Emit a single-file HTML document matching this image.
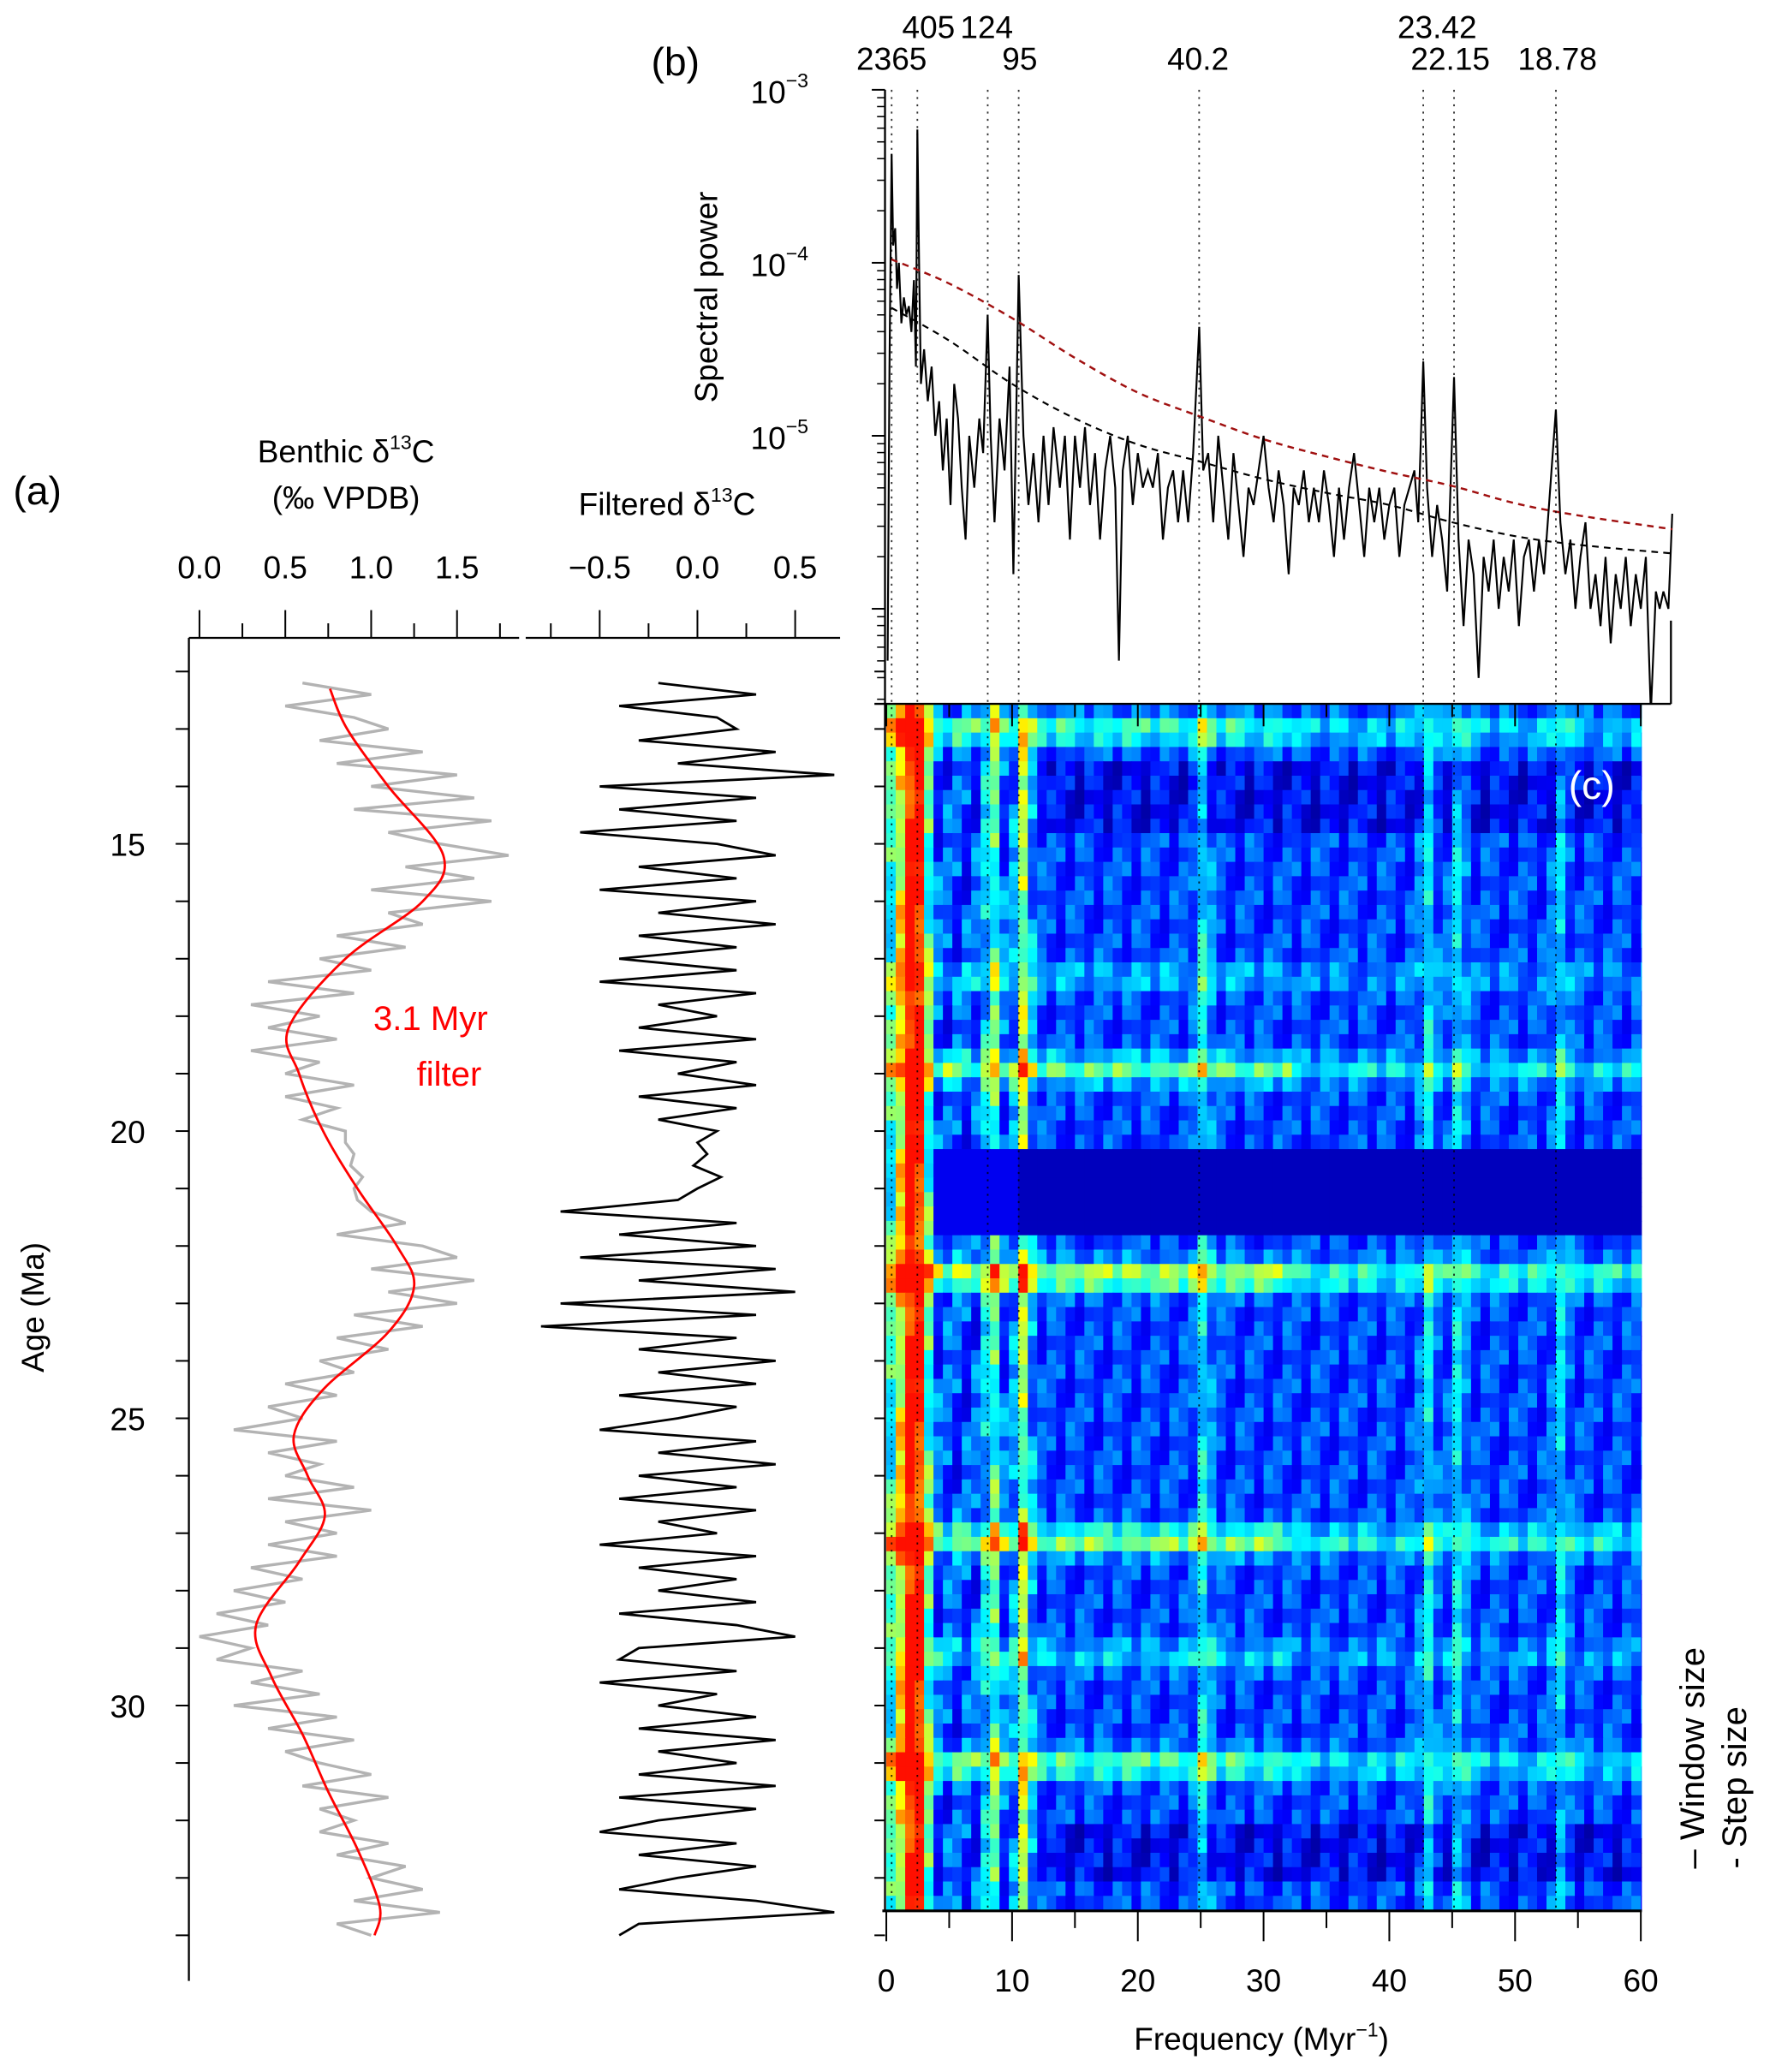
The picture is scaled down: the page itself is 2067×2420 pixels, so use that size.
<!DOCTYPE html>
<html><head><meta charset="utf-8"><style>
html,body{margin:0;padding:0;background:#fff;}
svg{display:block;font-family:"Liberation Sans",Arial,sans-serif;}
</style></head><body>
<svg id="fig" xmlns="http://www.w3.org/2000/svg" width="2067" height="2420" viewBox="0 0 1340 1569" preserveAspectRatio="none">
<defs><clipPath id="hclip"><rect x="670" y="533" width="573" height="914"/></clipPath></defs>
<g id="heat" clip-path="url(#hclip)"></g>
<g id="layer"></g>
</svg>
<script>
// ---------- DATA ----------
const rawAgeStart = 12.2, rawAgeStep = 0.2;
const rawD13C = [0.6,1.0,0.5,0.9,1.1, 0.7,1.3,0.8,1.5,1.0, 1.6,0.9,1.7,1.1,1.4, 1.8,1.2,1.6,1.0,1.7,
 1.1,1.3,0.8,1.2,0.7, 1.0,0.4,0.9,0.3,0.7, 0.4,0.8,0.3,0.7,0.5, 0.9,0.5,0.8,0.6,0.85,
 0.85,0.9,0.88,0.95,0.9, 0.92,1.0,1.2,0.8,1.3, 1.5,1.0,1.6,1.1,1.5, 0.9,1.3,0.8,1.1,0.7,
 0.9,0.5,0.8,0.4,0.6, 0.2,0.8,0.4,0.7,0.5, 0.9,0.4,1.0,0.5,0.8, 0.4,0.8,0.3,0.6,0.2,
 0.5,0.1,0.4,0.0,0.3, 0.1,0.6,0.3,0.7,0.2, 0.8,0.4,0.9,0.5,0.7, 1.0,0.6,1.1,0.7,0.9,
 0.7,1.1,0.8,1.2,1.0, 1.3,0.9,1.4,0.8,1.0];
const filtAges = [12.3,13,14,15.2,16,17,18.2,19,20,21,22,22.7,23.5,24.5,25.3,26,26.7,27.5,28.6,29.5,30.5,31.5,32.5,33.5,34];
const filtVals = [0.76,0.86,1.1,1.42,1.3,0.85,0.52,0.58,0.72,0.92,1.15,1.25,1.1,0.72,0.55,0.63,0.73,0.58,0.33,0.42,0.6,0.75,0.92,1.05,1.02];
const filtered = [-0.2,0.3,-0.4,0.1,0.2, -0.3,0.4,-0.1,0.7,-0.5, 0.3,-0.4,0.2,-0.6,0.1, 0.4,-0.3,0.2,-0.5,0.3,
 -0.2,0.4,-0.3,0.2,-0.4, 0.2,-0.5,0.3,-0.2,0.1, -0.3,0.3,-0.4,0.2,-0.1, 0.3,-0.3,0.2,-0.2,0.1,
 0.0,0.05,-0.02,0.12,0.0, -0.1,-0.7,0.2,-0.4,0.3, -0.6,0.4,-0.3,0.5,-0.7, 0.3,-0.8,0.2,-0.3,0.4,
 -0.2,0.3,-0.4,0.2,-0.1, -0.5,0.3,-0.2,0.4,-0.3, 0.2,-0.4,0.3,-0.2,0.1, -0.5,0.3,-0.3,0.2,-0.2,
 0.3,-0.4,0.2,0.5,-0.3, -0.4,0.2,-0.5,0.1,-0.2, 0.3,-0.3,0.4,-0.2,0.2, -0.3,0.4,-0.4,0.3,-0.2,
 -0.5,0.2,-0.3,0.3,-0.1, -0.4,0.3,0.7,-0.3,-0.4];
const specFreq = [0.1,0.25,0.42,0.55,0.7,0.85,1.0,1.2,1.4,1.6,1.8,2.0,2.2,2.35,2.47,2.6,2.75,3.0,3.3,3.6,3.9,4.2,4.5,4.8,5.1,5.4,5.7,6.0,6.3,6.6,7.0,7.4,7.7,8.06,8.3,8.6,9.0,9.4,9.8,10.1,10.53,10.9,11.3,11.7,12.1,12.5,12.9,13.3,13.8,14.2,14.6,15.0,15.4,15.8,16.2,16.6,17.0,17.4,17.8,18.2,18.5,18.8,19.2,19.6,20.0,20.4,20.8,21.2,21.6,22.0,22.4,22.8,23.2,23.6,24.0,24.4,24.88,25.2,25.6,26.0,26.4,26.8,27.2,27.6,28.0,28.4,28.8,29.2,29.6,30.0,30.4,30.8,31.2,31.6,32.0,32.4,32.8,33.2,33.6,34.0,34.4,34.8,35.2,35.6,36.0,36.4,36.8,37.2,37.6,38.0,38.4,38.8,39.2,39.6,40.0,40.4,40.8,41.2,41.6,42.0,42.3,42.7,43.0,43.4,43.8,44.2,44.6,45.15,45.5,45.9,46.3,46.7,47.1,47.5,47.9,48.3,48.7,49.1,49.5,49.9,50.3,50.7,51.1,51.5,51.9,52.3,52.7,53.25,53.6,54.0,54.4,54.8,55.2,55.6,56.0,56.4,56.8,57.2,57.6,58.0,58.4,58.8,59.2,59.6,60.0,60.4,60.8,61.2,61.5,61.8,62.2,62.5];
const specLogP = [-6.3,-4.6,-3.37,-3.9,-3.8,-4.15,-4.0,-4.35,-4.2,-4.3,-4.25,-4.4,-4.1,-4.6,-3.23,-4.0,-4.7,-4.5,-4.8,-4.6,-5.0,-4.8,-5.2,-4.9,-5.4,-4.7,-4.9,-5.3,-5.6,-5.0,-5.3,-4.9,-5.1,-4.3,-5.0,-5.5,-4.9,-5.2,-4.6,-5.8,-4.07,-5.0,-5.4,-5.1,-5.5,-5.0,-5.4,-4.95,-5.3,-5.0,-5.6,-5.0,-5.3,-4.95,-5.4,-5.1,-5.6,-5.2,-5.0,-5.3,-6.3,-5.2,-5.0,-5.4,-5.1,-5.3,-5.2,-5.3,-5.1,-5.6,-5.3,-5.2,-5.5,-5.2,-5.5,-5.1,-4.37,-5.2,-5.1,-5.5,-5.0,-5.3,-5.6,-5.1,-5.4,-5.7,-5.3,-5.4,-5.2,-5.0,-5.3,-5.5,-5.2,-5.4,-5.8,-5.3,-5.4,-5.2,-5.5,-5.3,-5.5,-5.2,-5.4,-5.7,-5.3,-5.6,-5.3,-5.1,-5.4,-5.7,-5.3,-5.5,-5.3,-5.6,-5.4,-5.3,-5.7,-5.4,-5.3,-5.2,-5.5,-4.57,-5.3,-5.7,-5.4,-5.6,-5.9,-4.66,-5.6,-6.1,-5.6,-5.8,-6.4,-5.7,-5.9,-5.6,-6.0,-5.7,-5.9,-5.6,-6.1,-5.7,-5.6,-5.9,-5.6,-5.8,-5.4,-4.85,-5.5,-5.8,-5.6,-6.0,-5.7,-5.5,-6.0,-5.8,-6.1,-5.7,-6.2,-5.8,-6.0,-5.7,-6.1,-5.8,-6.0,-5.7,-6.6,-5.9,-6.0,-5.9,-6.0,-5.45];
const confFreq = [0.4,5,10,15,20,25,30,35,40,45,50,55,62.5];
const conf99LogP = [-3.98,-4.12,-4.32,-4.55,-4.75,-4.89,-5.02,-5.12,-5.21,-5.29,-5.39,-5.46,-5.54];
const conf90LogP = [-4.26,-4.45,-4.7,-4.9,-5.05,-5.15,-5.25,-5.33,-5.4,-5.5,-5.58,-5.63,-5.68];
const periodLabels = ["2365","405","124","95","40.2","23.42","22.15","18.78"];
const periodKyr = [2365,405,124,95,40.2,23.42,22.15,18.78];
const bandCenters = [0.42,1.5,2.4,8.06,10.53,24.88,42.7,45.15,53.25];
const bandLevels = [0.3,0.55,0.5,0.27,0.32,0.18,0.16,0.16,0.13];
const brightRowAges = [12.9,17.2,18.8,22.4,27.0,29.0,30.9];
const brightRowLevels = [0.25,0.12,0.28,0.38,0.33,0.14,0.28];
const texture = [0.1,-0.05,0.18,-0.1,0.02,0.22,-0.08,0.12,-0.12,0.05,0.16,-0.03,0.08,-0.1,0.2,0.0,-0.06,0.14];

// ---------- HELPERS ----------
const NS="http://www.w3.org/2000/svg";
const layer=document.getElementById('layer');
function el(tag,attrs,parent){const e=document.createElementNS(NS,tag);for(const k in attrs)e.setAttribute(k,attrs[k]);(parent||layer).appendChild(e);return e;}
const ageY=a=>639+(a-15)*43.5;
const rawX=v=>151+v*130;
const filtX=v=>528+v*148;
const fX=f=>671+f*9.52;
const pY=lp=>68+(-3-lp)*131;
function smooth(pts){let d=`M${pts[0][0]},${pts[0][1]}`;for(let i=0;i<pts.length-1;i++){const p0=pts[Math.max(0,i-1)],p1=pts[i],p2=pts[i+1],p3=pts[Math.min(pts.length-1,i+2)];d+=` C${p1[0]+(p2[0]-p0[0])/6},${p1[1]+(p2[1]-p0[1])/6} ${p2[0]-(p3[0]-p1[0])/6},${p2[1]-(p3[1]-p1[1])/6} ${p2[0]},${p2[1]}`;}return d;}
function txt(s,x,y,size,attrs){const t=el('text',Object.assign({x:x,y:y,'font-size':size,fill:'#000'},attrs||{}));t.textContent=s;return t;}

// ---------- HEATMAP ----------
const heat=document.getElementById('heat');
function jet(v){v=Math.max(0,Math.min(1,v));const r=Math.max(0,Math.min(1,1.5-Math.abs(4*v-3))),g=Math.max(0,Math.min(1,1.5-Math.abs(4*v-2))),b=Math.max(0,Math.min(1,1.5-Math.abs(4*v-1)));return `rgb(${Math.round(r*255)},${Math.round(g*255)},${Math.round(b*255)})`;}
const hTop=533,hBot=1447,fStep=0.75,aStep=0.25;
const aTop=15+(hTop-639)/43.5, aBot=15+(hBot-639)/43.5;
let ci=0;
for(let a=aTop;a<aBot;a+=aStep){
  let rj=0;
  for(let f=0;f<60.3;f+=fStep){
    let bands=0;
    for(let k=0;k<bandCenters.length;k++){const w=bandCenters[k]<3?0.7:0.6;bands+=bandLevels[k]*Math.exp(-Math.pow((f-bandCenters[k])/w,2));}
    let row=0;
    for(let k=0;k<brightRowAges.length;k++)row+=brightRowLevels[k]*Math.exp(-Math.pow((a-brightRowAges[k])/0.25,2));
    const tx=texture[(ci*5+rj*7)%texture.length];
    let v=0.17+bands+row*(f<32?1:0.6)+tx*(f<12?0.7:0.5);
    if(f>12&&((a>13.4&&a<14.6)||(a>32.0&&a<33.0)))v-=0.07;
    if(a>20.2&&a<21.6&&f>3.5)v=0.06+(f<10?0.05:0);
    v=Math.min(v,0.86);
    const y=ageY(a),x=fX(f);
    el('rect',{x:x.toFixed(2),y:y.toFixed(2),width:(fStep*9.52+0.5).toFixed(2),height:(aStep*43.5+0.5).toFixed(2),fill:jet(v)},heat);
    rj++;
  }
  ci++;
}

// ---------- PANEL A ----------
let d='';
rawD13C.forEach((v,i)=>{const a=rawAgeStart+i*rawAgeStep;d+=(i?'L':'M')+rawX(v).toFixed(1)+','+ageY(a).toFixed(1);});
const rawPath=el('path',{d:d,fill:'none',stroke:'#b3b3b3','stroke-width':2.2});


const fp=el('path',{d:smooth(filtAges.map((a,i)=>[rawX(filtVals[i]),ageY(a)])),fill:'none',stroke:'#ff0000','stroke-width':1.8});


d='';
filtered.forEach((v,i)=>{const a=rawAgeStart+i*rawAgeStep;d+=(i?'L':'M')+filtX(v).toFixed(1)+','+ageY(a).toFixed(1);});
const filtPath=el('path',{d:d,fill:'none',stroke:'#000','stroke-width':1.8});



el('line',{x1:143,y1:483,x2:143,y2:1500,stroke:'#000','stroke-width':1.5});
el('line',{x1:143,y1:483,x2:393,y2:483,stroke:'#000','stroke-width':1.5});
el('line',{x1:398,y1:483,x2:636,y2:483,stroke:'#000','stroke-width':1.5});
for(let v=0;v<=1.75;v+=0.25){const maj=Math.abs(v*2-Math.round(v*2))<1e-6;el('line',{x1:rawX(v),y1:483,x2:rawX(v),y2:maj?462:472,stroke:'#000','stroke-width':1.3});}
[0,0.5,1,1.5].forEach(v=>txt(v.toFixed(1),rawX(v),438,24,{'text-anchor':'middle'}));
for(let v=-0.75;v<=0.5;v+=0.25){const maj=Math.abs(v*2-Math.round(v*2))<1e-6;el('line',{x1:filtX(v),y1:483,x2:filtX(v),y2:maj?462:472,stroke:'#000','stroke-width':1.3});}
[-0.5,0,0.5].forEach(v=>txt(v===0?'0.0':(v<0?'\u22120.5':'0.5'),filtX(v),438,24,{'text-anchor':'middle'}));
for(let a=12;a<=34;a++){el('line',{x1:133,y1:ageY(a),x2:143,y2:ageY(a),stroke:'#000','stroke-width':1.3});el('line',{x1:662,y1:ageY(a),x2:670,y2:ageY(a),stroke:'#000','stroke-width':1.3});}
[15,20,25,30].forEach(a=>txt(String(a),110,ageY(a)+9,24,{'text-anchor':'end'}));
const yl=txt('Age (Ma)',0,0,24,{'text-anchor':'middle',transform:'translate(33,990) rotate(-90)'});


let t=el('text',{x:262,y:350,'font-size':24,'text-anchor':'middle'});t.innerHTML='Benthic δ<tspan font-size="15" dy="-10">13</tspan><tspan dy="10">C</tspan>';
txt('(‰ VPDB)',262,385,24,{'text-anchor':'middle'});
t=el('text',{x:505,y:390,'font-size':24,'text-anchor':'middle'});t.innerHTML='Filtered δ<tspan font-size="15" dy="-10">13</tspan><tspan dy="10">C</tspan>';
txt('(a)',10,382,30);
txt('3.1 Myr',326,780,26,{'text-anchor':'middle',fill:'#ff0000'});
txt('filter',340,822,26,{'text-anchor':'middle',fill:'#ff0000'});

// ---------- PANEL B ----------
const clip=el('clipPath',{id:'bclip'});el('rect',{x:670,y:60,width:600,height:473},clip);
d='';specFreq.forEach((f,i)=>{d+=(i?'L':'M')+fX(f).toFixed(1)+','+pY(specLogP[i]).toFixed(1);});
const sp=el('path',{d:d,fill:'none',stroke:'#000','stroke-width':1.4,'clip-path':'url(#bclip)'});


const c99=el('path',{d:smooth(confFreq.map((f,i)=>[fX(f),pY(conf99LogP[i])])),fill:'none',stroke:'#a01010','stroke-width':1.6,'stroke-dasharray':'5,4'});


const c90=el('path',{d:smooth(confFreq.map((f,i)=>[fX(f),pY(conf90LogP[i])])),fill:'none',stroke:'#000','stroke-width':1.4,'stroke-dasharray':'5,4'});


el('line',{x1:670,y1:68,x2:670,y2:533,stroke:'#000','stroke-width':1.5});
el('line',{x1:662,y1:533,x2:1265,y2:533,stroke:'#000','stroke-width':1.5});
el('line',{x1:1265,y1:470,x2:1265,y2:533,stroke:'#000','stroke-width':1.5});
for(let e=-3;e>=-6;e--){el('line',{x1:660,y1:pY(e),x2:670,y2:pY(e),stroke:'#000','stroke-width':1.3});
  for(let m=2;m<=9;m++){const lp=e-1+Math.log10(m);if(pY(lp)<533)el('line',{x1:664,y1:pY(lp),x2:670,y2:pY(lp),stroke:'#000','stroke-width':1});}}
[-3,-4,-5].forEach(e=>{const tt=el('text',{x:612,y:pY(e)+10,'font-size':24,'text-anchor':'end'});tt.innerHTML='10<tspan font-size="15" dy="-12">'+'\u2212'+(-e)+'</tspan>';});
const spl=txt('Spectral power',0,0,24,{'text-anchor':'middle',transform:'translate(543,225) rotate(-90)'});


txt('(b)',493,57,30);
periodKyr.forEach((p,i)=>{const f=1000/p;const ln=el('line',{x1:fX(f),y1:68,x2:fX(f),y2:1447,stroke:'#000','stroke-width':1.2,'stroke-dasharray':'1.5,4','stroke-opacity':0.8});
  
  });
txt('2365',675,53,24,{'text-anchor':'middle'});
txt('405',703,29,24,{'text-anchor':'middle'});
txt('124',747,29,24,{'text-anchor':'middle'});
txt('95',772,53,24,{'text-anchor':'middle'});
txt('40.2',907,53,24,{'text-anchor':'middle'});
txt('23.42',1088,29,24,{'text-anchor':'middle'});
txt('22.15',1098,53,24,{'text-anchor':'middle'});
txt('18.78',1179,53,24,{'text-anchor':'middle'});

// ---------- PANEL C axes ----------
el('line',{x1:670,y1:533,x2:670,y2:1447,stroke:'#000','stroke-width':1.5});
el('line',{x1:668,y1:1447,x2:1243,y2:1447,stroke:'#000','stroke-width':2});
for(let f=0;f<=60;f+=5){const maj=f%10===0;el('line',{x1:fX(f),y1:1447,x2:fX(f),y2:maj?1470:1460,stroke:'#000','stroke-width':1.3});
 el('line',{x1:fX(f),y1:533,x2:fX(f),y2:maj?550:543,stroke:'#000','stroke-width':1.3});
 if(maj)txt(String(f),fX(f),1508,24,{'text-anchor':'middle'});}
t=el('text',{x:955,y:1552,'font-size':24,'text-anchor':'middle'});t.innerHTML='Frequency (Myr<tspan font-size="15" dy="-10">\u22121</tspan><tspan dy="10">)</tspan>';


txt('(c)',1205,605,30,{'text-anchor':'middle',fill:'#fff'});
txt('\u2013  Window size',0,0,26,{transform:'translate(1290,1415) rotate(-90)'});
txt('-  Step size',0,0,26,{transform:'translate(1322,1415) rotate(-90)'});
</script>
</body></html>
